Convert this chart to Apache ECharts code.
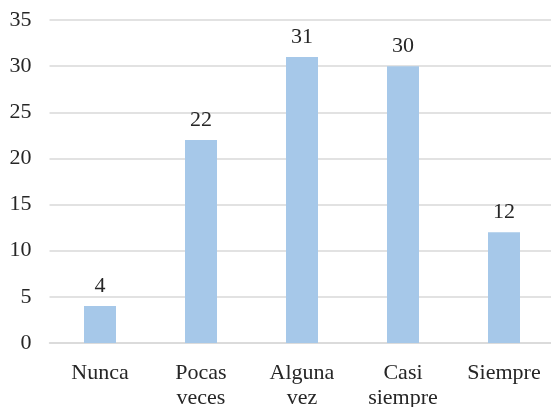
<!DOCTYPE html>
<html>
<head>
<meta charset="utf-8">
<script src="https://cdn.jsdelivr.net/npm/echarts@6/dist/echarts.min.js"></script>
<style>
  html, body { margin: 0; padding: 0; background: #fff; }
  #chart { width: 551px; height: 407px; }
</style>
</head>
<body>
<div id="chart"></div>
<script>
// Frequency of responses per answer option
const categories = ['Nunca', 'Pocas\nveces', 'Alguna\nvez', 'Casi\nsiempre', 'Siempre'];
const values = [4, 22, 31, 30, 12];
const yTicks = { min: 0, max: 35, interval: 5 };

const serif = '"Liberation Serif", "Times New Roman", serif';
const textColor = '#262626';
const fontSize = 22;

const chart = echarts.init(document.getElementById('chart'), null, { renderer: 'canvas' });
chart.setOption({
  animation: false,
  grid: {
    left: 49.5, top: 20, width: 505, bottom: 64,
    containLabel: false,
    outerBoundsMode: 'none'
  },
  xAxis: {
    type: 'category',
    data: categories,
    axisLine: { show: true, lineStyle: { color: '#d9d9d9', width: 1.5 } },
    axisTick: { show: false },
    axisLabel: {
      interval: 0,
      margin: 18,
      fontFamily: serif,
      fontSize: fontSize,
      lineHeight: 25,
      color: textColor
    }
  },
  yAxis: {
    type: 'value',
    min: yTicks.min,
    max: yTicks.max,
    interval: yTicks.interval,
    axisLine: { show: false },
    axisTick: { show: false },
    splitLine: { lineStyle: { color: '#d9d9d9', width: 1.5 } },
    axisLabel: {
      margin: 18,
      padding: [6, 0, 0, 0],
      fontFamily: serif,
      fontSize: fontSize,
      color: textColor
    }
  },
  series: [{
    type: 'bar',
    data: values,
    barWidth: 32,
    itemStyle: { color: '#a6c8e9' },
    label: {
      show: true,
      position: 'top',
      distance: 9,
      fontFamily: serif,
      fontSize: fontSize,
      color: textColor
    }
  }]
});
</script>
</body>
</html>
